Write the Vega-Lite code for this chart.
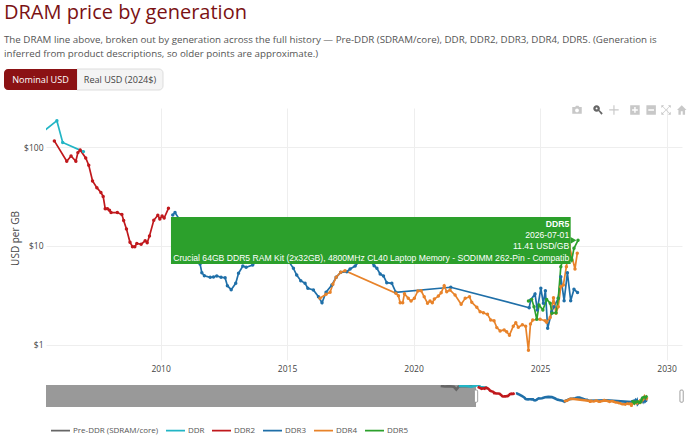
{
  "$schema": "https://vega.github.io/schema/vega-lite/v6.json",
  "background": "white",
  "padding": {"left": 4, "top": 2, "right": 0, "bottom": 0},
  "title": {
    "text": "DRAM price by generation",
    "subtitle": ["The DRAM line above, broken out by generation across the full history \u2014 Pre-DDR (SDRAM/core), DDR, DDR2, DDR3, DDR4, DDR5. (Generation is", "inferred from product descriptions, so older points are approximate.)"],
    "anchor": "start",
    "frame": "bounds",
    "font": "Open Sans",
    "fontSize": 20,
    "fontWeight": "normal",
    "color": "#7b1113",
    "subtitleFont": "Open Sans",
    "subtitleFontSize": 9.75,
    "subtitleColor": "#555555",
    "subtitleLineHeight": 14,
    "subtitlePadding": 12,
    "offset": 10
  },
  "config": {
    "view": {"stroke": null},
    "font": "Open Sans",
    "axis": {"labelFont": "Open Sans", "titleFont": "Open Sans"}
  },
  "datasets": {
    "prices": [
      {"gen": "Pre-DDR (SDRAM/core)", "year": 2001.3, "usd": 150},
      {"gen": "Pre-DDR (SDRAM/core)", "year": 2001.8, "usd": 130},
      {"gen": "Pre-DDR (SDRAM/core)", "year": 2002.3, "usd": 140},
      {"gen": "Pre-DDR (SDRAM/core)", "year": 2002.9, "usd": 120},
      {"gen": "Pre-DDR (SDRAM/core)", "year": 2003.2, "usd": 60},
      {"gen": "Pre-DDR (SDRAM/core)", "year": 2003.5, "usd": 130},
      {"gen": "Pre-DDR (SDRAM/core)", "year": 2004.1, "usd": 150},
      {"gen": "Pre-DDR (SDRAM/core)", "year": 2004.8, "usd": 140},
      {"gen": "Pre-DDR (SDRAM/core)", "year": 2005.3, "usd": 160},
      {"gen": "DDR", "year": 2003.5, "usd": 150},
      {"gen": "DDR", "year": 2004.2, "usd": 160},
      {"gen": "DDR", "year": 2005.0, "usd": 122},
      {"gen": "DDR", "year": 2005.9, "usd": 186},
      {"gen": "DDR", "year": 2006.13, "usd": 112},
      {"gen": "DDR", "year": 2006.95, "usd": 90.4},
      {"gen": "DDR2", "year": 2005.8, "usd": 116},
      {"gen": "DDR2", "year": 2006.29, "usd": 72.1},
      {"gen": "DDR2", "year": 2006.46, "usd": 81.6},
      {"gen": "DDR2", "year": 2006.65, "usd": 72.1},
      {"gen": "DDR2", "year": 2006.73, "usd": 88.3},
      {"gen": "DDR2", "year": 2006.82, "usd": 94},
      {"gen": "DDR2", "year": 2007.04, "usd": 78},
      {"gen": "DDR2", "year": 2007.16, "usd": 65.8},
      {"gen": "DDR2", "year": 2007.31, "usd": 45.6},
      {"gen": "DDR2", "year": 2007.48, "usd": 39},
      {"gen": "DDR2", "year": 2007.64, "usd": 34.8},
      {"gen": "DDR2", "year": 2007.73, "usd": 31.8},
      {"gen": "DDR2", "year": 2007.81, "usd": 23.9},
      {"gen": "DDR2", "year": 2007.9, "usd": 23.9},
      {"gen": "DDR2", "year": 2007.98, "usd": 23},
      {"gen": "DDR2", "year": 2008.04, "usd": 21.8},
      {"gen": "DDR2", "year": 2008.29, "usd": 21.8},
      {"gen": "DDR2", "year": 2008.47, "usd": 20.8},
      {"gen": "DDR2", "year": 2008.54, "usd": 18.1},
      {"gen": "DDR2", "year": 2008.65, "usd": 14.9},
      {"gen": "DDR2", "year": 2008.79, "usd": 10.9},
      {"gen": "DDR2", "year": 2008.89, "usd": 9.85},
      {"gen": "DDR2", "year": 2008.98, "usd": 9.85},
      {"gen": "DDR2", "year": 2009.06, "usd": 10.6},
      {"gen": "DDR2", "year": 2009.23, "usd": 10.4},
      {"gen": "DDR2", "year": 2009.39, "usd": 11.3},
      {"gen": "DDR2", "year": 2009.47, "usd": 10.8},
      {"gen": "DDR2", "year": 2009.56, "usd": 12.6},
      {"gen": "DDR2", "year": 2009.73, "usd": 18.2},
      {"gen": "DDR2", "year": 2009.89, "usd": 20.5},
      {"gen": "DDR2", "year": 2009.97, "usd": 18.8},
      {"gen": "DDR2", "year": 2010.06, "usd": 20.1},
      {"gen": "DDR2", "year": 2010.14, "usd": 19.2},
      {"gen": "DDR2", "year": 2010.31, "usd": 24.1},
      {"gen": "DDR3", "year": 2010.48, "usd": 20.6},
      {"gen": "DDR3", "year": 2010.57, "usd": 21.8},
      {"gen": "DDR3", "year": 2010.89, "usd": 16.3},
      {"gen": "DDR3", "year": 2011.17, "usd": 11.5},
      {"gen": "DDR3", "year": 2011.44, "usd": 8.3},
      {"gen": "DDR3", "year": 2011.56, "usd": 6.57},
      {"gen": "DDR3", "year": 2011.63, "usd": 5.36},
      {"gen": "DDR3", "year": 2011.73, "usd": 5.0},
      {"gen": "DDR3", "year": 2011.96, "usd": 4.82},
      {"gen": "DDR3", "year": 2012.09, "usd": 4.85},
      {"gen": "DDR3", "year": 2012.22, "usd": 4.97},
      {"gen": "DDR3", "year": 2012.39, "usd": 4.82},
      {"gen": "DDR3", "year": 2012.55, "usd": 4.77},
      {"gen": "DDR3", "year": 2012.64, "usd": 3.96},
      {"gen": "DDR3", "year": 2012.79, "usd": 3.61},
      {"gen": "DDR3", "year": 2012.97, "usd": 4.19},
      {"gen": "DDR3", "year": 2013.08, "usd": 5.29},
      {"gen": "DDR3", "year": 2013.25, "usd": 6.27},
      {"gen": "DDR3", "year": 2013.38, "usd": 6.08},
      {"gen": "DDR3", "year": 2013.64, "usd": 6.42},
      {"gen": "DDR3", "year": 2014.01, "usd": 8.1},
      {"gen": "DDR3", "year": 2014.41, "usd": 9.1},
      {"gen": "DDR3", "year": 2014.84, "usd": 8.5},
      {"gen": "DDR3", "year": 2015.25, "usd": 5.94},
      {"gen": "DDR3", "year": 2015.38, "usd": 5.08},
      {"gen": "DDR3", "year": 2015.54, "usd": 4.45},
      {"gen": "DDR3", "year": 2015.71, "usd": 4.19},
      {"gen": "DDR3", "year": 2015.82, "usd": 3.73},
      {"gen": "DDR3", "year": 2016.04, "usd": 3.58},
      {"gen": "DDR3", "year": 2016.24, "usd": 3.06},
      {"gen": "DDR3", "year": 2016.38, "usd": 2.66},
      {"gen": "DDR3", "year": 2016.54, "usd": 3.4},
      {"gen": "DDR3", "year": 2016.77, "usd": 4.03},
      {"gen": "DDR3", "year": 2016.94, "usd": 4.82},
      {"gen": "DDR3", "year": 2017.12, "usd": 5.41},
      {"gen": "DDR3", "year": 2017.36, "usd": 5.49},
      {"gen": "DDR3", "year": 2017.49, "usd": 5.85},
      {"gen": "DDR3", "year": 2017.69, "usd": 6.27},
      {"gen": "DDR3", "year": 2017.96, "usd": 7.56},
      {"gen": "DDR3", "year": 2018.2, "usd": 7.56},
      {"gen": "DDR3", "year": 2018.44, "usd": 6.32},
      {"gen": "DDR3", "year": 2018.55, "usd": 5.94},
      {"gen": "DDR3", "year": 2018.68, "usd": 5.2},
      {"gen": "DDR3", "year": 2018.81, "usd": 4.97},
      {"gen": "DDR3", "year": 2018.94, "usd": 4.25},
      {"gen": "DDR3", "year": 2019.14, "usd": 4.19},
      {"gen": "DDR3", "year": 2019.3, "usd": 3.4},
      {"gen": "DDR3", "year": 2021.47, "usd": 3.82},
      {"gen": "DDR3", "year": 2024.57, "usd": 2.37},
      {"gen": "DDR3", "year": 2024.63, "usd": 2.84},
      {"gen": "DDR3", "year": 2024.8, "usd": 3.27},
      {"gen": "DDR3", "year": 2024.89, "usd": 2.25},
      {"gen": "DDR3", "year": 2025.03, "usd": 3.73},
      {"gen": "DDR3", "year": 2025.13, "usd": 2.63},
      {"gen": "DDR3", "year": 2025.21, "usd": 3.52},
      {"gen": "DDR3", "year": 2025.3, "usd": 1.47},
      {"gen": "DDR3", "year": 2025.46, "usd": 2.16},
      {"gen": "DDR3", "year": 2025.55, "usd": 2.43},
      {"gen": "DDR3", "year": 2025.72, "usd": 2.95},
      {"gen": "DDR3", "year": 2025.82, "usd": 4.88},
      {"gen": "DDR3", "year": 2025.95, "usd": 2.79},
      {"gen": "DDR3", "year": 2026.08, "usd": 5.36},
      {"gen": "DDR3", "year": 2026.21, "usd": 2.79},
      {"gen": "DDR3", "year": 2026.34, "usd": 3.64},
      {"gen": "DDR3", "year": 2026.48, "usd": 3.38},
      {"gen": "DDR4", "year": 2016.3, "usd": 2.95},
      {"gen": "DDR4", "year": 2016.54, "usd": 3.24},
      {"gen": "DDR4", "year": 2016.7, "usd": 3.4},
      {"gen": "DDR4", "year": 2016.81, "usd": 4.09},
      {"gen": "DDR4", "year": 2016.94, "usd": 4.82},
      {"gen": "DDR4", "year": 2017.12, "usd": 5.41},
      {"gen": "DDR4", "year": 2017.29, "usd": 5.62},
      {"gen": "DDR4", "year": 2019.3, "usd": 3.32},
      {"gen": "DDR4", "year": 2019.4, "usd": 3.13},
      {"gen": "DDR4", "year": 2019.47, "usd": 2.66},
      {"gen": "DDR4", "year": 2019.57, "usd": 2.66},
      {"gen": "DDR4", "year": 2019.64, "usd": 3.29},
      {"gen": "DDR4", "year": 2019.79, "usd": 2.95},
      {"gen": "DDR4", "year": 2019.9, "usd": 2.77},
      {"gen": "DDR4", "year": 2020.03, "usd": 2.95},
      {"gen": "DDR4", "year": 2020.17, "usd": 3.5},
      {"gen": "DDR4", "year": 2020.3, "usd": 3.52},
      {"gen": "DDR4", "year": 2020.42, "usd": 3.06},
      {"gen": "DDR4", "year": 2020.55, "usd": 2.63},
      {"gen": "DDR4", "year": 2020.65, "usd": 2.77},
      {"gen": "DDR4", "year": 2020.74, "usd": 2.66},
      {"gen": "DDR4", "year": 2020.82, "usd": 2.9},
      {"gen": "DDR4", "year": 2020.98, "usd": 3.11},
      {"gen": "DDR4", "year": 2021.09, "usd": 3.36},
      {"gen": "DDR4", "year": 2021.21, "usd": 3.96},
      {"gen": "DDR4", "year": 2021.31, "usd": 3.44},
      {"gen": "DDR4", "year": 2021.44, "usd": 3.58},
      {"gen": "DDR4", "year": 2021.64, "usd": 3.19},
      {"gen": "DDR4", "year": 2021.88, "usd": 2.57},
      {"gen": "DDR4", "year": 2022.04, "usd": 2.95},
      {"gen": "DDR4", "year": 2022.21, "usd": 3.06},
      {"gen": "DDR4", "year": 2022.3, "usd": 2.69},
      {"gen": "DDR4", "year": 2022.5, "usd": 2.39},
      {"gen": "DDR4", "year": 2022.63, "usd": 2.16},
      {"gen": "DDR4", "year": 2022.76, "usd": 2.11},
      {"gen": "DDR4", "year": 2022.92, "usd": 2.03},
      {"gen": "DDR4", "year": 2023.05, "usd": 1.78},
      {"gen": "DDR4", "year": 2023.18, "usd": 1.75},
      {"gen": "DDR4", "year": 2023.29, "usd": 1.49},
      {"gen": "DDR4", "year": 2023.42, "usd": 1.38},
      {"gen": "DDR4", "year": 2023.58, "usd": 1.41},
      {"gen": "DDR4", "year": 2023.68, "usd": 1.35},
      {"gen": "DDR4", "year": 2023.79, "usd": 1.25},
      {"gen": "DDR4", "year": 2023.94, "usd": 1.54},
      {"gen": "DDR4", "year": 2024.04, "usd": 1.67},
      {"gen": "DDR4", "year": 2024.14, "usd": 1.5},
      {"gen": "DDR4", "year": 2024.3, "usd": 1.59},
      {"gen": "DDR4", "year": 2024.43, "usd": 1.54},
      {"gen": "DDR4", "year": 2024.54, "usd": 0.877},
      {"gen": "DDR4", "year": 2024.62, "usd": 1.62},
      {"gen": "DDR4", "year": 2024.71, "usd": 1.78},
      {"gen": "DDR4", "year": 2025.0, "usd": 1.81},
      {"gen": "DDR4", "year": 2025.2, "usd": 1.75},
      {"gen": "DDR4", "year": 2025.26, "usd": 1.69},
      {"gen": "DDR4", "year": 2025.4, "usd": 1.89},
      {"gen": "DDR4", "year": 2025.53, "usd": 2.99},
      {"gen": "DDR4", "year": 2025.63, "usd": 2.08},
      {"gen": "DDR4", "year": 2025.72, "usd": 2.43},
      {"gen": "DDR4", "year": 2025.82, "usd": 3.87},
      {"gen": "DDR4", "year": 2025.92, "usd": 4.03},
      {"gen": "DDR4", "year": 2026.04, "usd": 6.17},
      {"gen": "DDR4", "year": 2026.15, "usd": 10.2},
      {"gen": "DDR4", "year": 2026.38, "usd": 5.85},
      {"gen": "DDR4", "year": 2026.47, "usd": 8.43},
      {"gen": "DDR5", "year": 2024.54, "usd": 2.77},
      {"gen": "DDR5", "year": 2024.67, "usd": 2.88},
      {"gen": "DDR5", "year": 2024.76, "usd": 2.43},
      {"gen": "DDR5", "year": 2024.87, "usd": 1.81},
      {"gen": "DDR5", "year": 2024.96, "usd": 2.53},
      {"gen": "DDR5", "year": 2025.11, "usd": 2.25},
      {"gen": "DDR5", "year": 2025.26, "usd": 2.88},
      {"gen": "DDR5", "year": 2025.4, "usd": 2.63},
      {"gen": "DDR5", "year": 2025.47, "usd": 2.08},
      {"gen": "DDR5", "year": 2025.63, "usd": 2.11},
      {"gen": "DDR5", "year": 2025.72, "usd": 2.95},
      {"gen": "DDR5", "year": 2025.82, "usd": 6.17},
      {"gen": "DDR5", "year": 2025.95, "usd": 8.1},
      {"gen": "DDR5", "year": 2026.11, "usd": 9.1},
      {"gen": "DDR5", "year": 2026.25, "usd": 7.2},
      {"gen": "DDR5", "year": 2026.34, "usd": 9.48},
      {"gen": "DDR5", "year": 2026.5, "usd": 11.41}
    ],
    "icons": [
      {"icon": "camera", "year": 2026.46, "usd": 239},
      {"icon": "zoom", "year": 2027.29, "usd": 239},
      {"icon": "pan", "year": 2027.92, "usd": 239},
      {"icon": "plus", "year": 2028.75, "usd": 239},
      {"icon": "minus", "year": 2029.39, "usd": 239},
      {"icon": "autoscale", "year": 2029.98, "usd": 239},
      {"icon": "home", "year": 2030.6, "usd": 239}
    ]
  },
  "columns": 1,
  "align": "none",
  "spacing": 14,
  "resolve": {"scale": {"color": "independent", "shape": "independent"}},
  "concat": [
    {
      "width": 159,
      "height": 21,
      "data": {"values": [{"nominal": "Nominal USD", "real": "Real USD (2024$)"}]},
      "layer": [
        {"mark": {"type": "rect", "fill": "#f4f4f4", "stroke": "#dddddd", "cornerRadiusTopRight": 4, "cornerRadiusBottomRight": 4}, "encoding": {"x": {"value": 31}, "x2": {"value": 117}}},
        {"mark": {"type": "rect", "fill": "#8b1214", "cornerRadiusTopLeft": 4, "cornerRadiusBottomLeft": 4}, "encoding": {"x": {"value": -42}, "x2": {"value": 31}}},
        {"mark": {"type": "text", "color": "white", "fontSize": 9.1, "font": "Open Sans", "xOffset": -85}, "encoding": {"text": {"field": "nominal"}}},
        {"mark": {"type": "text", "color": "#444444", "fontSize": 9.1, "font": "Open Sans", "xOffset": -5.5}, "encoding": {"text": {"field": "real"}}}
      ]
    },
    {
      "spacing": 10,
      "resolve": {"scale": {"color": "independent", "shape": "independent"}},
      "vconcat": [
        {
          "width": 636,
          "height": 252,
          "encoding": {
            "x": {
              "field": "year",
              "type": "quantitative",
              "scale": {"domain": [2005.47, 2030.61], "nice": false, "zero": false},
              "axis": {"title": null, "values": [2010, 2015, 2020, 2025, 2030], "format": "d", "domain": false, "ticks": false, "labelColor": "#444444", "labelFontSize": 8.5, "labelPadding": 4, "gridColor": "#eeeeee", "labelFlush": false}
            },
            "y": {
              "field": "usd",
              "type": "quantitative",
              "scale": {"type": "log", "domain": [0.7, 250], "nice": false},
              "axis": {"title": "USD per GB", "values": [1, 10, 100], "labelExpr": "'$' + datum.value", "domain": false, "ticks": false, "labelColor": "#444444", "labelFontSize": 8.5, "labelPadding": 3, "titleColor": "#444444", "titleFontSize": 10, "titleFontWeight": "normal", "titleX": -26, "titleY": 130, "gridColor": "#eeeeee"}
            }
          },
          "layer": [
            {
              "data": {"name": "prices"},
              "mark": {"type": "line", "strokeWidth": 1.7, "clip": true},
              "encoding": {
                "color": {"field": "gen", "type": "nominal", "legend": null, "sort": null, "scale": {"domain": ["Pre-DDR (SDRAM/core)", "DDR", "DDR2", "DDR3", "DDR4", "DDR5"], "range": ["#666666", "#22b5c5", "#c0181c", "#1f6fa8", "#e8832a", "#2ca02c"]}}
              }
            },
            {
              "data": {"name": "prices"},
              "mark": {"type": "circle", "size": 12, "opacity": 1, "clip": true},
              "encoding": {
                "color": {"field": "gen", "type": "nominal", "legend": null, "sort": null, "scale": {"domain": ["Pre-DDR (SDRAM/core)", "DDR", "DDR2", "DDR3", "DDR4", "DDR5"], "range": ["#666666", "#22b5c5", "#c0181c", "#1f6fa8", "#e8832a", "#2ca02c"]}}
              }
            },
            {
              "data": {"values": [{"start": 2010.41, "end": 2026.21, "low": 6.57, "high": 19.7}]},
              "mark": {"type": "rect", "fill": "#2ca02c"},
              "encoding": {
                "x": {"field": "start", "type": "quantitative"},
                "x2": {"field": "end"},
                "y": {"field": "low", "type": "quantitative"},
                "y2": {"field": "high"}
              }
            },
            {
              "data": {"values": [{"year": 2026.32, "usd": 11.41}]},
              "mark": {"type": "point", "shape": "triangle-right", "filled": true, "opacity": 1, "size": 45, "color": "#2ca02c"}
            },
            {
              "data": {"values": [{"year": 2026.15, "usd": 16.7, "label": "DDR5"}]},
              "mark": {"type": "text", "align": "right", "color": "white", "font": "Liberation Sans", "fontSize": 8.6, "fontWeight": "bold"},
              "encoding": {"text": {"field": "label"}}
            },
            {
              "data": {"values": [
                {"year": 2026.15, "usd": 12.9, "label": "2026-07-01"},
                {"year": 2026.15, "usd": 10.1, "label": "11.41 USD/GB"},
                {"year": 2026.15, "usd": 7.56, "label": "Crucial 64GB DDR5 RAM Kit (2x32GB), 4800MHz CL40 Laptop Memory - SODIMM 262-Pin - Compatib"}
              ]},
              "mark": {"type": "text", "align": "right", "color": "white", "font": "Liberation Sans", "fontSize": 8.6},
              "encoding": {"text": {"field": "label"}}
            },
            {
              "data": {"name": "icons"},
              "mark": {"type": "point", "filled": true, "opacity": 1, "size": 90},
              "encoding": {
                "shape": {
                  "field": "icon",
                  "type": "nominal",
                  "legend": null,
                  "scale": {
                    "domain": ["camera", "zoom", "pan", "plus", "minus", "autoscale", "home"],
                    "range": [
                      "M-1,-0.6H-0.4L-0.2,-0.9H0.3L0.5,-0.6H1V0.8H-1Z M0.4,0.1A0.4,0.4 0 1 0 -0.4,0.1A0.4,0.4 0 1 0 0.4,0.1Z",
                      "M-1,-0.3A0.7,0.7 0 1 1 0.4,-0.3A0.7,0.7 0 1 1 -1,-0.3Z M-0.5,-0.3A0.2,0.2 0 1 0 -0.1,-0.3A0.2,0.2 0 1 0 -0.5,-0.3Z M0.1,0.2L0.3,0L1,0.7L0.7,1Z",
                      "M-0.12,-1H0.12V-0.12H1V0.12H0.12V1H-0.12V0.12H-1V-0.12H-0.12Z",
                      "M-1,-1H1V1H-1Z M-0.6,-0.15V0.15H-0.15V0.6H0.15V0.15H0.6V-0.15H0.15V-0.6H-0.15V-0.15Z",
                      "M-1,-1H1V1H-1Z M-0.6,-0.15V0.15H0.6V-0.15Z",
                      "M-1,-1H-0.4L-1,-0.4Z M1,-1V-0.4L0.4,-1Z M1,1H0.4L1,0.4Z M-1,1V0.4L-0.4,1Z M-0.75,-0.85L0.85,0.75L0.75,0.85L-0.85,-0.75Z M0.85,-0.75L-0.75,0.85L-0.85,0.75L0.75,-0.85Z",
                      "M0,-1L1,0H0.7V1H0.2V0.3H-0.2V1H-0.7V0H-1Z"
                    ]
                  }
                },
                "color": {"condition": {"test": "datum.icon === 'zoom'", "value": "#666666"}, "value": "#c8c8c8"}
              }
            }
          ]
        },
        {
          "width": 636,
          "height": 22,
          "encoding": {
            "x": {
              "field": "year",
              "type": "quantitative",
              "scale": {"domain": [1953.2, 2030.7], "nice": false, "zero": false},
              "axis": null
            },
            "y": {
              "field": "usd",
              "type": "quantitative",
              "scale": {"type": "log", "domain": [0.676, 190], "nice": false},
              "axis": {"title": "U", "titleOpacity": 0, "titleFontSize": 11, "titlePadding": 8, "values": [100], "labelExpr": "'$' + datum.value", "labelOpacity": 0, "labelFontSize": 8.5, "labelPadding": 3, "domain": false, "ticks": false, "grid": false}
            }
          },
          "layer": [
            {
              "data": {"values": [{"start": 1953.2, "end": 2005.6}]},
              "mark": {"type": "rect", "fill": "#999999"},
              "encoding": {
                "x": {"field": "start", "type": "quantitative"},
                "x2": {"field": "end"},
                "y": {"value": 0},
                "y2": {"value": 22}
              }
            },
            {
              "data": {"name": "prices"},
              "mark": {"type": "line", "strokeWidth": 2.6, "clip": true},
              "encoding": {
                "color": {
                  "field": "gen",
                  "type": "nominal",
                  "sort": null,
                  "scale": {"domain": ["Pre-DDR (SDRAM/core)", "DDR", "DDR2", "DDR3", "DDR4", "DDR5"], "range": ["#666666", "#22b5c5", "#c0181c", "#1f6fa8", "#e8832a", "#2ca02c"]},
                  "legend": {
                    "title": null,
                    "orient": "none",
                    "legendX": 4,
                    "legendY": 35,
                    "direction": "horizontal",
                    "columns": 6,
                    "columnPadding": 3,
                    "labelOffset": 2,
                    "labelFont": "Open Sans",
                    "labelFontSize": 8,
                    "labelColor": "#555555",
                    "symbolType": "M-1,0H1M0,-0.1V0.1",
                    "symbolSize": 360,
                    "symbolStrokeWidth": 1.7
                  }
                }
              }
            },
            {
              "data": {"values": [{"start": 2005.4, "end": 2005.8, "low": 2.3, "high": 52}, {"start": 2030.45, "end": 2030.85, "low": 2.3, "high": 52}]},
              "mark": {"type": "rect", "fill": "white", "stroke": "#888888", "strokeWidth": 0.8, "cornerRadius": 1},
              "encoding": {
                "x": {"field": "start", "type": "quantitative"},
                "x2": {"field": "end"},
                "y": {"field": "low", "type": "quantitative"},
                "y2": {"field": "high"}
              }
            }
          ]
        }
      ]
    }
  ]
}
